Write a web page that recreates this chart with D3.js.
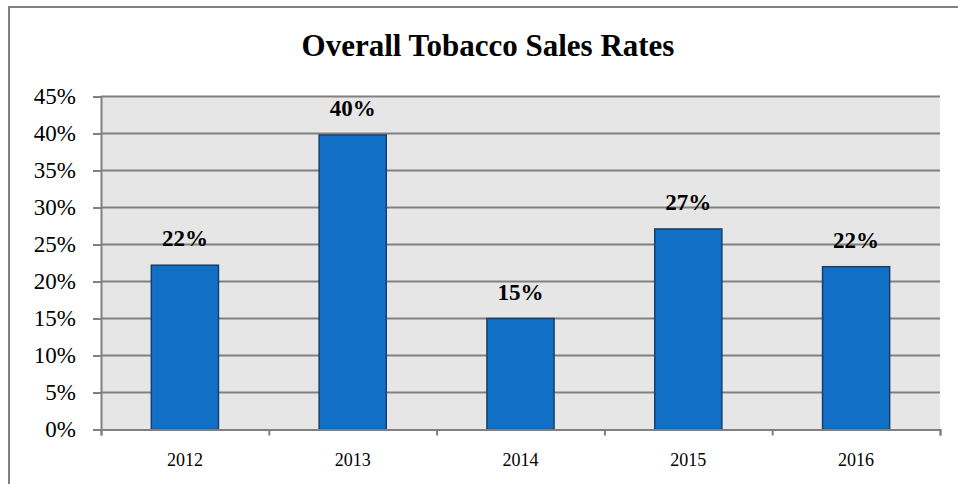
<!DOCTYPE html>
<html><head><meta charset="utf-8">
<script src="https://cdn.jsdelivr.net/npm/d3@7"></script>
<style>
html,body{margin:0;padding:0;background:#fff;}
svg{display:block;}
text{font-family:"Liberation Serif","DejaVu Serif",serif;}
</style></head>
<body>
<svg id="c" width="958" height="484"></svg>
<script>
const title = "Overall Tobacco Sales Rates";
const years = ["2012","2013","2014","2015","2016"];
const rates = [22.2, 39.8, 15.0, 27.1, 22.0];
const rateLabels = ["22%","40%","15%","27%","22%"];
const yTicks = [0,5,10,15,20,25,30,35,40,45];

const svg = d3.select("#c");
const L=101, R=940, T=96.5, B=429.5;

// outer frame
svg.append("path").attr("d","M9,484 L9,7 L958,7")
  .attr("fill","none").attr("stroke","#808080").attr("stroke-width",2);

const x = d3.scaleBand().domain(years).range([L,R]).paddingInner(0.6).paddingOuter(0.3);
const y = d3.scaleLinear().domain([0,45]).range([B,T]);

// plot bg
svg.append("rect").attr("x",L).attr("y",T).attr("width",R-L).attr("height",B-T).attr("fill","#e6e6e6");

// grid
svg.append("g").selectAll("line").data(yTicks.filter(d=>d>0)).join("line")
  .attr("x1",L).attr("x2",R).attr("y1",d=>y(d)).attr("y2",d=>y(d))
  .attr("stroke","#808080").attr("stroke-width",2);

// bars
svg.append("g").selectAll("rect").data(years).join("rect")
  .attr("x",d=>x(d)).attr("width",x.bandwidth())
  .attr("y",(d,i)=>y(rates[i])).attr("height",(d,i)=>B-y(rates[i]))
  .attr("fill","#1170c6").attr("stroke","#173f6e").attr("stroke-width",1.5);

// y axis
const ya = svg.append("g").attr("transform",`translate(${L},0)`)
  .call(d3.axisLeft(y).tickValues(yTicks).tickSize(8).tickPadding(17).tickFormat(d=>d+"%"));
ya.select(".domain").attr("stroke","#808080").attr("stroke-width",2);
ya.selectAll(".tick line").attr("stroke","#808080").attr("stroke-width",2);
ya.selectAll(".tick text").attr("font-size",23).attr("fill","#000")
  .attr("font-family","Liberation Serif, serif").attr("dy","0.3em");

// x axis boundaries
const xb = d3.scaleLinear().domain([0,years.length]).range([L,R]);
const xa = svg.append("g").attr("transform",`translate(0,${B})`)
  .call(d3.axisBottom(xb).tickValues(d3.range(0,years.length+1)).tickSize(6).tickFormat(""));
xa.select(".domain").attr("stroke","#808080").attr("stroke-width",2);
xa.selectAll(".tick line").attr("stroke","#808080").attr("stroke-width",2);

// x labels
svg.append("g").selectAll("text").data(years).join("text")
  .attr("x",d=>x(d)+x.bandwidth()/2).attr("y",466)
  .attr("text-anchor","middle").attr("font-size",18).attr("fill","#000").text(d=>d);

// value labels
svg.append("g").selectAll("text").data(years).join("text")
  .attr("x",d=>x(d)+x.bandwidth()/2).attr("y",(d,i)=>y(rates[i])-19)
  .attr("text-anchor","middle").attr("font-size",23).attr("font-weight","bold").attr("fill","#000")
  .text((d,i)=>rateLabels[i]);

// title
svg.append("text").attr("x",488).attr("y",56).attr("text-anchor","middle")
  .attr("font-size",31).attr("font-weight","bold").attr("fill","#000").text(title);
</script>
</body></html>
